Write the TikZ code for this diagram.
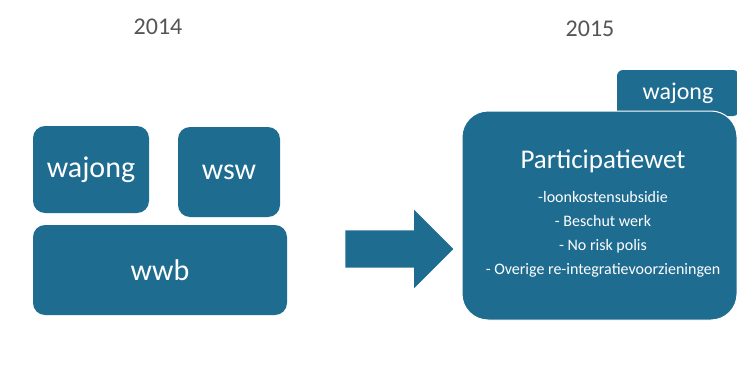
\documentclass[tikz,border=0pt]{standalone}
\usepackage{fontspec}
\setmainfont{Carlito}
\usetikzlibrary{shapes.arrows}
\definecolor{tealblue}{RGB}{31,108,145}
\definecolor{yeargray}{RGB}{85,85,85}

\begin{document}
\begin{tikzpicture}[x=1pt, y=-1pt, every node/.style={font=\fontsize{30}{34}\selectfont}]
  % Styles
  \tikzset{
    block/.style={rectangle, rounded corners=12pt, fill=tealblue, text=white, inner sep=0pt},
    year/.style={text=yeargray, font=\fontsize{24}{28}\selectfont},
    bigarrow/.style={single arrow, fill=tealblue, inner xsep=0pt, inner ysep=18.5pt, single arrow head extend=20.5pt}
  }
  \useasboundingbox (0,0) rectangle (737,388);

  % Years
  \node[year] (y14) at (158,27) {2014};
  \node[year] (y15) at (590,29) {2015};

  % 2014 blocks
  \node[block, minimum width=116pt, minimum height=87pt] (wajongL) at (91,169.5) {wajong};
  \node[block, minimum width=102pt, minimum height=90pt] (wsw) at (229,172) {wsw};
  \node[block, minimum width=254pt, minimum height=90pt] (wwb) at (160,270) {wwb};

  % Arrow
  \node[bigarrow, minimum height=108pt] (arrow) at (390,249) {};

  % 2015 blocks
  \node[block, rounded corners=6pt, minimum width=122pt, minimum height=46pt,
        font=\fontsize{24}{28}\selectfont] (wajongR) at (678,93) {wajong};
  \node[block, rounded corners=26pt, minimum width=275pt, minimum height=209pt,
        draw=white, line width=1pt] (pw) at (599.5,215.5) {};
  \node[text=white, font=\fontsize{27}{30}\selectfont] (pwtitle) at (603,161) {Participatiewet};
  \node[text=white, align=center, font=\fontsize{16}{24}\selectfont, inner sep=0pt] (pwlist) at (603,234)
    {-loonkostensubsidie\\- Beschut werk\\- No risk polis\\- Overige re-integratievoorzieningen};

\end{tikzpicture}
\end{document}
